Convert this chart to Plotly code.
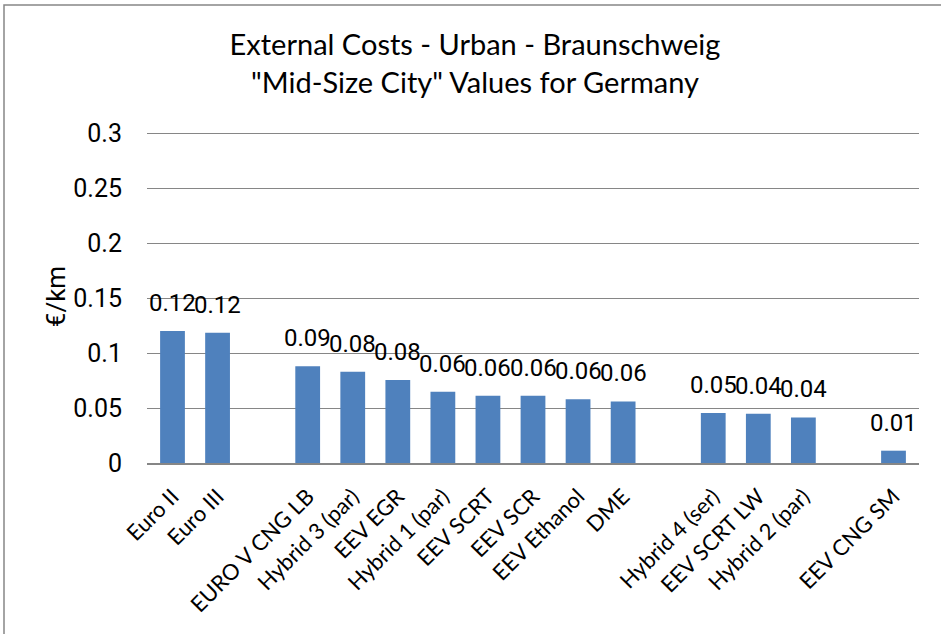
import plotly.graph_objects as go

categories = ["Euro II", "Euro III", " ",
              "EURO V CNG LB", "Hybrid 3 (par)", "EEV EGR", "Hybrid 1 (par)",
              "EEV SCRT", "EEV SCR", "EEV Ethanol", "DME", "  ",
              "Hybrid 4 (ser)", "EEV SCRT LW", "Hybrid 2 (par)", "   ",
              "EEV CNG SM"]
values = [0.120, 0.1185, None,
          0.088, 0.083, 0.0755, 0.0648,
          0.0612, 0.0612, 0.0579, 0.056, None,
          0.0455, 0.0448, 0.0415, None,
          0.0112]
y_ticks = [0, 0.05, 0.1, 0.15, 0.2, 0.25, 0.3]
y_ticktext = ["0", "0.05", "0.1", "0.15", "0.2", "0.25", "0.3"]

TFONT = "Lato, Open Sans, sans-serif"
NFONT = "Roboto, Open Sans, sans-serif"

fig = go.Figure(go.Bar(
    x=categories, y=values,
    marker=dict(color="#4F81BD", line=dict(width=0)),
    hoverinfo="x+y",
))

# data labels above bars, positioned from the data values
for c, v in zip(categories, values):
    if v is None:
        continue
    fig.add_annotation(
        x=c, y=v, text=f"{v:.2f}", showarrow=False,
        xanchor="center", yanchor="bottom", yshift=12,
        font=dict(size=24, color="#000000", family=NFONT),
    )

ml, mr, mt, mb = 147, 22, 130, 171
W, H = 941, 634
pw, ph = W - ml - mr, H - mt - mb

fig.update_layout(
    width=W, height=H,
    margin=dict(l=ml, r=mr, t=mt, b=mb),
    paper_bgcolor="white", plot_bgcolor="white",
    bargap=0.45,
    showlegend=False,
    title=dict(
        text="External Costs - Urban - Braunschweig<br>\"Mid-Size City\" Values for Germany",
        x=(475 - ml) / pw, xref="paper", xanchor="center", y=1 - 55 / H, yanchor="middle",
        font=dict(family=TFONT, size=29, color="#000000"),
    ),
    font=dict(family=TFONT, color="#000000"),
    xaxis=dict(
        type="category", tickangle=-45, tickfont=dict(size=22, family=TFONT),
        showgrid=False, showline=True, linecolor="#868686", linewidth=2,
        ticks="", automargin=False, ticklabelstandoff=10,
    ),
    yaxis=dict(
        range=[0, 0.303], tickvals=y_ticks, ticktext=y_ticktext,
        tickfont=dict(size=25, family=NFONT), showgrid=True,
        gridcolor="#868686", gridwidth=1, zeroline=False, showline=False,
        ticks="", ticklen=0, automargin=False, ticklabelstandoff=24,
        title=dict(text="€/km", font=dict(size=26, family=NFONT), standoff=0),
    ),
    shapes=[dict(
        type="rect", xref="paper", yref="paper",
        x0=(4 - ml) / pw, x1=(948 - ml) / pw,
        y0=-(640 - (H - mb)) / ph, y1=1 + (mt - 5) / ph,
        line=dict(color="#868686", width=1.5), fillcolor="rgba(0,0,0,0)",
        layer="below",
    )],
)

fig.write_html("out.html", config={"displayModeBar": False},
               post_script="document.body.style.margin='0px';")
